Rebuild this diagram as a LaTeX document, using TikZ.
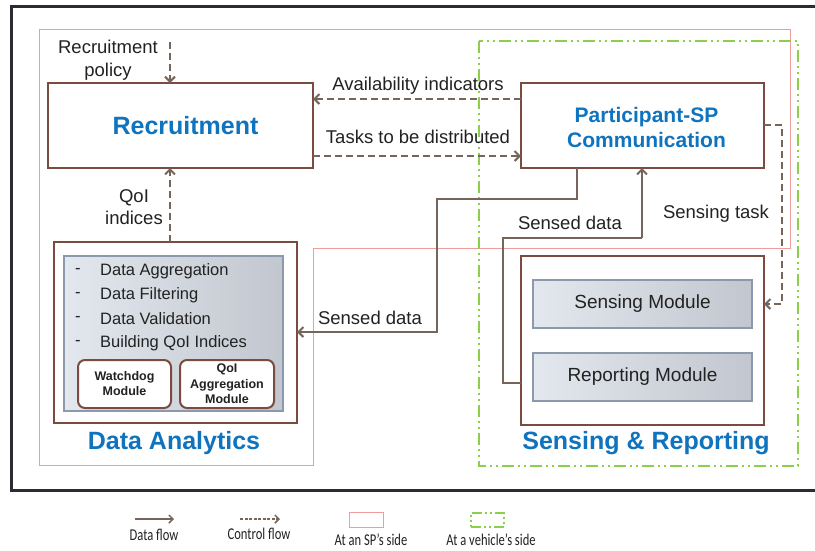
\documentclass[tikz,border=0pt]{standalone}
\usepackage{fontspec}
\setmainfont{Liberation Sans}
\newfontfamily\legfont[FakeStretch=0.76]{Carlito}
\usetikzlibrary{arrows.meta,calc}
\definecolor{boxbrown}{HTML}{7B4B40}
\definecolor{arrowc}{HTML}{76655B}
\definecolor{titleblue}{HTML}{0F73BE}
\definecolor{txt}{HTML}{222222}
\definecolor{spred}{HTML}{EE9C9C}
\definecolor{vgreen}{HTML}{8CCF4D}
\definecolor{framec}{HTML}{2B2B33}
\definecolor{modborder}{HTML}{8C99AC}
\definecolor{modl}{HTML}{E3E7EE}
\definecolor{modr}{HTML}{C2C6CE}
\begin{document}
\begin{tikzpicture}[x=1pt,y=-1pt,
  box/.style={draw=boxbrown, line width=2.6pt, fill=white, inner sep=0pt, outer sep=0pt, anchor=north west},
  module/.style={draw=modborder, line width=1.2pt, left color=modl, right color=modr, inner sep=0pt, outer sep=0pt, anchor=north west},
  modtext/.style={text=txt, font=\fontsize{19}{22}\selectfont, inner sep=0pt},
  rbox/.style={draw=boxbrown, line width=2pt, fill=white, rounded corners=7pt, inner sep=0pt, outer sep=0pt, anchor=north west},
  rtext/.style={text=txt, font=\fontsize{12.5}{15}\selectfont\bfseries, align=center, inner sep=0pt},
  title/.style={text=titleblue, font=\fontsize{25}{28}\selectfont\bfseries, inner sep=0pt, align=center},
  lbl/.style={text=txt, font=\fontsize{18.5}{22.5}\selectfont, inner sep=0pt, align=center},
  item/.style={text=txt, font=\fontsize{16.5}{20}\selectfont, inner sep=0pt, anchor=west},
  dataflow/.style={draw=arrowc, line width=2.2pt, -{Straight Barb[length=5pt,width=10pt,line width=2pt]}},
  ctrlflow/.style={draw=arrowc, line width=2.2pt, dash pattern=on 7pt off 4pt, -{Straight Barb[length=5pt,width=10pt,line width=2pt]}},
  leg/.style={text=txt, font=\legfont\fontsize{16.5}{19}\selectfont, inner sep=0pt},
  greenline/.style={draw=vgreen, line width=2pt, dash pattern=on 12pt off 4pt on 2pt off 4pt on 2pt off 4pt},
]
\useasboundingbox (0,0) rectangle (815,550);
\fill[white] (0,0) rectangle (815,550);

% outer frame
\draw[framec, line width=3pt] (815,6) -- (11,6) -- (11,490) -- (815,490);

% SP side region
\draw[spred, line width=1pt] (39,29) -- (790,29) -- (790,248) -- (313,248) -- (313,465) -- (39,465) -- cycle;
% vehicle side region
\draw[greenline] (479,41) rectangle (798,466);

% main boxes
\node[box, minimum width=265pt, minimum height=85pt] (rec) at (48,83) {};
\node[title] (rectitle) at ([xshift=5pt]rec.center) {Recruitment};

\node[box, minimum width=243pt, minimum height=85pt] (part) at (521,83) {};
\node[title, font=\fontsize{21}{25}\selectfont\bfseries] (parttitle) at ([xshift=4pt,yshift=-2pt]part.center) {Participant-SP\\Communication};

\node[box, minimum width=243pt, minimum height=181pt] (da) at (54,242) {};
\node[module, minimum width=219pt, minimum height=155pt] (dain) at (64,256) {};
\node[item] (d1) at (75,271) {-};
\node[item] (d2) at (75,295) {-};
\node[item] (d3) at (75,319) {-};
\node[item] (d4) at (75,343) {-};
\node[item] (i1) at (100,271) {Data Aggregation};
\node[item] (i2) at (100,295) {Data Filtering};
\node[item] (i3) at (100,319) {Data Validation};
\node[item] (i4) at (100,343) {Building QoI Indices};
\node[rbox, minimum width=93pt, minimum height=48pt] (wd) at (78,360) {};
\node[rtext] (wdt) at (wd.center) {Watchdog\\Module};
\node[rbox, minimum width=94pt, minimum height=48pt] (qa) at (180,360) {};
\node[rtext, font=\fontsize{12.5}{15.5}\selectfont\bfseries] (qat) at (qa.center) {QoI\\Aggregation\\Module};
\node[title] (datitle) at (174,443) {Data Analytics};

\node[box, minimum width=243pt, minimum height=169pt] (sr) at (521,256) {};
\node[module, minimum width=219pt, minimum height=48pt] (sm) at (533,280) {};
\node[modtext] (smt) at (sm.center) {Sensing Module};
\node[module, minimum width=219pt, minimum height=48pt] (rm) at (533,353) {};
\node[modtext] (rmt) at (rm.center) {Reporting Module};
\node[title] (srtitle) at (646,443) {Sensing \& Reporting};

% connectors
\coordinate (pol) at (170,42);
\draw[ctrlflow] (pol) -- (pol |- rec.north);
\node[lbl] (poltxt) at (108,60) {Recruitment\\policy};

\draw[ctrlflow] (da.north -| pol) -- (rec.south -| pol);
\node[lbl] (qoitxt) at (134,207) {QoI\\indices};

\draw[ctrlflow] ([yshift=-16pt]part.north west) -- ([yshift=-16pt]rec.north east);
\node[lbl] (availtxt) at (418,86) {Availability indicators};
\draw[ctrlflow] ([yshift=12pt]rec.south east) -- ([yshift=12pt]part.south west);
\node[lbl] (taskstxt) at (418,137) {Tasks to be distributed};

\coordinate (a1) at (577,199);
\coordinate (a2) at (437,332);
\draw[dataflow] (part.south -| a1) -- (a1) -| (a2) -- (da.east |- a2);
\node[lbl] (sd1) at (370,318) {Sensed data};

\coordinate (b1) at (503,383);
\coordinate (b2) at (642,238);
\draw[dataflow, arrows={-}] (sr.west |- b1) -- (b1) |- (b2);
\draw[dataflow] (b2) -- (part.south -| b2);
\node[lbl] (sd2) at (570,223) {Sensed data};

\coordinate (c1) at (782,125);
\coordinate (c2) at (782,304);
\draw[ctrlflow] (part.east |- c1) -- (c1) -- (c2) -- (sr.east |- c2);
\node[lbl] (sttxt) at (716,214) {Sensing task};

% legend
\coordinate (l1) at (135,519);
\coordinate (l2) at (174,519);
\draw[draw=arrowc, line width=1.6pt, -{Straight Barb[length=4pt,width=8pt,line width=1.5pt]}] (l1) -- (l2);
\node[leg] (lt1) at (154,535) {Data flow};
\coordinate (l3) at (240,519);
\coordinate (l4) at (280,519);
\draw[draw=arrowc, line width=1.6pt, dash pattern=on 3pt off 1.5pt, -{Straight Barb[length=4pt,width=8pt,line width=1.5pt]}] (l3) -- (l4);
\node[leg] (lt2) at (259,534) {Control flow};
\node[draw=spred, line width=1pt, minimum width=34pt, minimum height=15pt, inner sep=0pt, anchor=north west] (lsp) at (349,512) {};
\node[leg] (lt3) at (371,540) {At an SP’s side};
\node[draw=vgreen, line width=2pt, dash pattern=on 10pt off 3pt on 2pt off 3pt on 2pt off 3pt, minimum width=33pt, minimum height=14pt, inner sep=0pt, anchor=north west] (lveh) at (470,512) {};
\node[leg] (lt4) at (491,540) {At a vehicle’s side};
\end{tikzpicture}
\end{document}
